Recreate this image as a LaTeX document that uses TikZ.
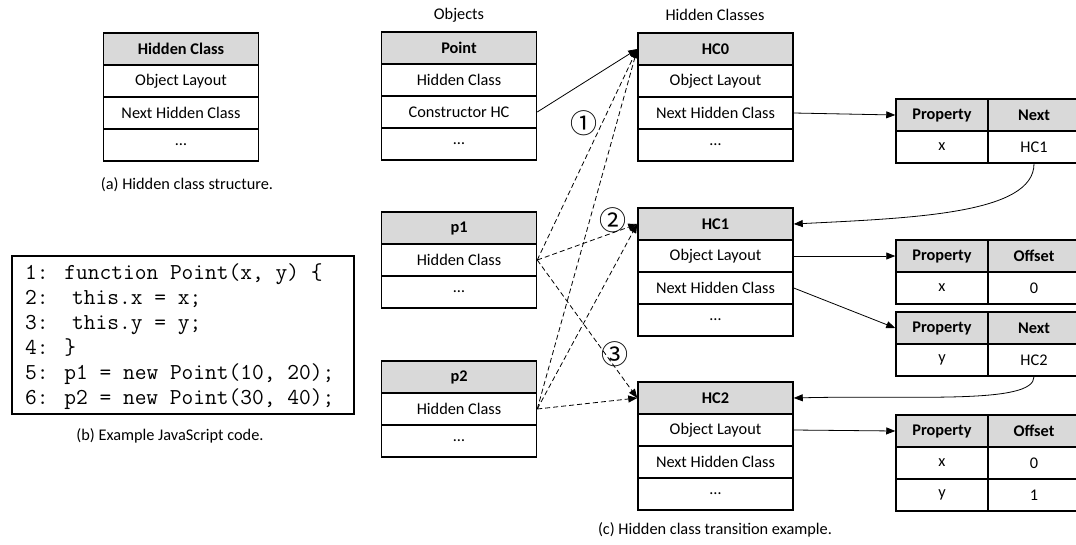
\documentclass[tikz,border=0pt]{standalone}
\usepackage{fontspec}
\setmainfont{Carlito}
\newfontfamily\circfont{Noto Sans CJK SC}
\usetikzlibrary{arrows.meta}
\definecolor{headgray}{HTML}{D9D9D9}
\tikzset{
  cell/.style={draw, line width=1.5pt, minimum height=32pt, inner sep=0pt,
    font=\fontsize{16.3}{19}\selectfont},
  wide/.style={cell, minimum width=155pt},
  narrow/.style={cell, minimum width=92pt},
  head/.style={fill=headgray, font=\fontsize{16.3}{19}\selectfont\bfseries},
  label/.style={font=\fontsize{16.3}{19}\selectfont, inner sep=0pt},
  codeline/.style={font=\ttfamily\fontsize{22.8}{25}\selectfont, anchor=base west, inner sep=0pt},
  link/.style={line width=0.8pt, -{Triangle[length=9pt,width=7pt]}},
  hclink/.style={link, dash pattern=on 5pt off 3pt},
  circnum/.style={font=\circfont\fontsize{27}{29}\selectfont, inner sep=0pt},
}
\begin{document}
\begin{tikzpicture}[x=1pt,y=-1pt]
\useasboundingbox (0,0) rectangle (1076,544);

% (a) generic hidden class layout
\node[wide, head] (s1) at (181,49) {Hidden Class};
\node[wide] (s2) at (181,81) {Object Layout};
\node[wide] (s3) at (181,113) {Next Hidden Class};
\node[wide] (s4) at (181,145) {…};
\node[label] (capa) at (187,185) {(a) Hidden class structure.};

% (b) JavaScript source
\node[draw, line width=1.5pt, minimum width=342pt, minimum height=158pt, anchor=north west, inner sep=0pt] (codebox) at (11,255) {};
\node[codeline] (c1) at (25,279) {1: function Point(x, y) \{};
\node[codeline] (c2) at (25,304) {2:~~this.x = x;};
\node[codeline] (c3) at (25,329) {3:~~this.y = y;};
\node[codeline] (c4) at (25,354) {4: \}};
\node[codeline] (c5) at (25,379) {5: p1 = new Point(10, 20);};
\node[codeline] (c6) at (25,404) {6: p2 = new Point(30, 40);};
\node[label] (capb) at (170,436) {(b) Example JavaScript code.};

% (c) column titles
\node[label] (objt) at (459,15) {Objects};
\node[label] (hct) at (715,15) {Hidden Classes};

% objects
\node[wide, head] (pt1) at (459,48) {Point};
\node[wide] (pt2) at (459,80) {Hidden Class};
\node[wide] (pt3) at (459,112) {Constructor HC};
\node[wide] (pt4) at (459,144) {…};

\node[wide, head] (pa1) at (459,228) {p1};
\node[wide] (pa2) at (459,260) {Hidden Class};
\node[wide] (pa3) at (459,292) {…};

\node[wide, head] (pb1) at (459,377) {p2};
\node[wide] (pb2) at (459,409) {Hidden Class};
\node[wide] (pb3) at (459,441) {…};

% hidden classes
\node[wide, head] (hc0h) at (715.5,49) {HC0};
\node[wide] (hc0a) at (715.5,81) {Object Layout};
\node[wide] (hc0b) at (715.5,113) {Next Hidden Class};
\node[wide] (hc0c) at (715.5,145) {…};

\node[wide, head] (hc1h) at (715.5,224) {HC1};
\node[wide] (hc1a) at (715.5,256) {Object Layout};
\node[wide] (hc1b) at (715.5,288) {Next Hidden Class};
\node[wide] (hc1c) at (715.5,320) {…};

\node[wide, head] (hc2h) at (715.5,398) {HC2};
\node[wide] (hc2a) at (715.5,430) {Object Layout};
\node[wide] (hc2b) at (715.5,462) {Next Hidden Class};
\node[wide] (hc2c) at (715.5,494) {…};

% transition and layout tables
\node[narrow, head] (t1ph) at (942,115) {Property};
\node[narrow, head] (t1nh) at (1034,115) {Next};
\node[narrow] (t1p2) at (942,147) {x};
\node[narrow] (t1n2) at (1034,147) {HC1};

\node[narrow, head] (t2ph) at (942,256) {Property};
\node[narrow, head] (t2oh) at (1034,256) {Offset};
\node[narrow] (t2p2) at (942,288) {x};
\node[narrow] (t2o2) at (1034,288) {0};

\node[narrow, head] (t3ph) at (942,328) {Property};
\node[narrow, head] (t3nh) at (1034,328) {Next};
\node[narrow] (t3p2) at (942,360) {y};
\node[narrow] (t3n2) at (1034,360) {HC2};

\node[narrow, head] (t4ph) at (942,431) {Property};
\node[narrow, head] (t4oh) at (1034,431) {Offset};
\node[narrow] (t4p2) at (942,463) {x};
\node[narrow] (t4o2) at (1034,463) {0};
\node[narrow] (t4p3) at (942,495) {y};
\node[narrow] (t4o3) at (1034,495) {1};

\node[label] (capc) at (715,530) {(c) Hidden class transition example.};

% step markers
\node[circnum] (n1) at (584,123) {①};
\node[circnum] (n2) at (613,220) {②};
\node[circnum] (n3) at (615,354) {③};

% constructor link
\draw[link] (pt3.east) -- (hc0h.west);

% object -> hidden class links
\foreach \o in {pa2,pb2}
  \foreach \h in {hc0h,hc1h,hc2h}
    \draw[hclink] (\o.east) -- (\h.west);

% hidden class internals
\draw[link] (hc0b.east) -- (t1ph.west);
\draw[link] (t1n2.south) .. controls +(0,50) and +(120,-6) .. (hc1h.east);
\draw[link] (hc1a.east) -- (t2ph.west);
\draw[link] (hc1b.east) -- (t3ph.west);
\draw[link] (t3n2.south) .. controls +(0,28) and +(120,-3) .. (hc2h.east);
\draw[link] (hc2a.east) -- (t4ph.west);
\end{tikzpicture}
\end{document}
